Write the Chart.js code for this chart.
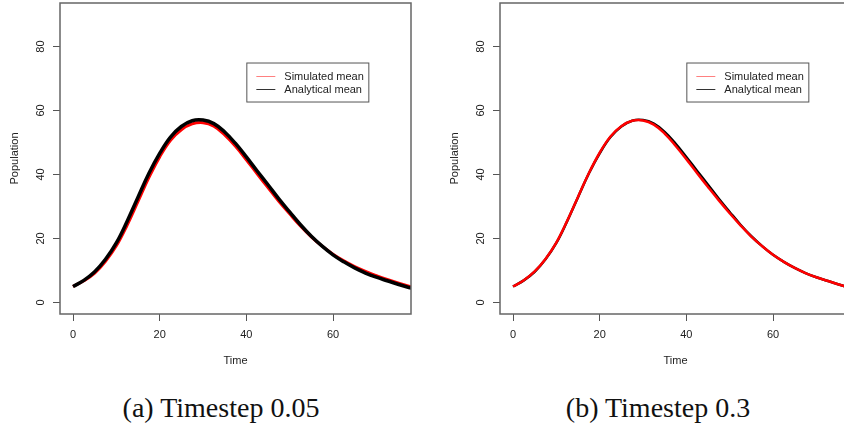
<!DOCTYPE html>
<html>
<head>
<meta charset="utf-8">
<script src="https://cdn.jsdelivr.net/npm/chart.js@4.4.1/dist/chart.umd.min.js"></script>
<style>
  html, body { margin: 0; padding: 0; background: #fff; overflow: hidden; }
  body { width: 844px; height: 432px; position: relative; }
  canvas { position: absolute; top: 0; }
  #chartA { left: 0; }
  #chartB { left: 422px; }
  .caption {
    position: absolute; top: 392px; width: 300px; margin-left: -150px;
    text-align: center; font-family: "Liberation Serif", serif; font-size: 28px; color: #111;
  }
</style>
</head>
<body>
<canvas id="chartA" width="422" height="380"></canvas>
<canvas id="chartB" width="440" height="380"></canvas>
<div class="caption" style="left:221px">(a) Timestep 0.05</div>
<div class="caption" style="left:658px">(b) Timestep 0.3</div>
<script>
// time points (every 2.5 time units)
var timePoints = [0, 2.5, 5, 7.5, 10, 12.5, 15, 17.5, 20, 22.5, 25, 27.5, 30, 32.5, 35, 37.5, 40,
  42.5, 45, 47.5, 50, 52.5, 55, 57.5, 60, 62.5, 65, 67.5, 70, 72.5, 75, 77.5, 80];

// analytical mean (same for both panels)
var analyticalMean = [5.0, 6.9, 9.6, 13.5, 18.6, 25.4, 32.9, 40.3, 46.6, 51.7, 55.0, 56.8, 57.0, 55.9, 53.3, 49.7, 45.5,
  41.1, 36.8, 32.4, 28.3, 24.3, 20.7, 17.6, 14.9, 12.7, 10.8, 9.2, 7.9, 6.8, 5.7, 4.7, 3.9];

// simulated mean, timestep 0.05
var simMean005 = [5.0, 6.8, 9.2, 12.9, 17.7, 24.2, 31.6, 39.0, 45.5, 50.7, 54.0, 55.8, 56.2, 55.1, 52.4, 48.8, 44.6,
  40.2, 35.9, 31.6, 27.7, 23.9, 20.5, 17.6, 15.1, 13.0, 11.2, 9.7, 8.4, 7.2, 6.1, 5.1, 4.3];

// simulated mean, timestep 0.3
var simMean03 = [5.0, 6.95, 9.7, 13.6, 18.7, 25.5, 33.0, 40.4, 46.8, 51.9, 55.1, 56.8, 56.9, 55.6, 52.8, 49.0, 44.8,
  40.4, 36.1, 31.9, 27.9, 24.1, 20.6, 17.6, 14.9, 12.7, 10.8, 9.2, 7.9, 6.8, 5.7, 4.7, 3.9];

var seriesLabels = ['Simulated mean', 'Analytical mean'];
var xTicks = [0, 20, 40, 60];
var yTicks = [0, 20, 40, 60, 80];

var txtFont = { family: '"Liberation Sans", Arial, sans-serif', size: 11 };

function pts(ys) {
  return timePoints.map(function(t, i) { return { x: t, y: ys[i] }; });
}

// R-style box around the plot region
var boxPlugin = {
  id: 'rbox',
  afterDraw: function(chart) {
    var ctx = chart.ctx, a = chart.chartArea;
    ctx.save();
    ctx.strokeStyle = '#666';
    ctx.lineWidth = 1.5;
    ctx.strokeRect(a.left, a.top, a.right - a.left, a.bottom - a.top);
    ctx.restore();
  }
};

// legend box anchored at a data position, like R's legend(x, y, ...)
var rLegendPlugin = {
  id: 'rlegend',
  afterDraw: function(chart, args, opts) {
    var ctx = chart.ctx;
    var x0 = chart.scales.x.getPixelForValue(opts.at[0]);
    var y0 = chart.scales.y.getPixelForValue(opts.at[1]);
    ctx.save();
    ctx.fillStyle = '#fff';
    ctx.fillRect(x0, y0, 122, 39);
    ctx.strokeStyle = '#555';
    ctx.lineWidth = 1;
    ctx.strokeRect(x0 + 0.5, y0 + 0.5, 122, 39);
    ctx.font = '11px "Liberation Sans", Arial, sans-serif';
    ctx.textBaseline = 'middle';
    chart.data.datasets.forEach(function(ds, i) {
      var yy = y0 + 14 + i * 13;
      ctx.strokeStyle = ds.legendColor;
      ctx.beginPath();
      ctx.moveTo(x0 + 10, yy);
      ctx.lineTo(x0 + 29, yy);
      ctx.stroke();
      ctx.fillStyle = '#222';
      ctx.fillText(ds.label, x0 + 38, yy);
    });
    ctx.restore();
  }
};

function makeChart(id, simData, redWidth, blackWidth, redOnTop, padLeft) {
  return new Chart(document.getElementById(id), {
    type: 'line',
    data: {
      datasets: [{
        label: seriesLabels[0],
        data: pts(simData),
        borderColor: '#ff0000',
        legendColor: '#ff8080',
        borderWidth: redWidth,
        pointRadius: 0,
        tension: 0.4,
        order: redOnTop ? 1 : 2
      }, {
        label: seriesLabels[1],
        data: pts(analyticalMean),
        borderColor: '#000000',
        legendColor: '#333',
        borderWidth: blackWidth,
        pointRadius: 0,
        tension: 0.4,
        order: redOnTop ? 2 : 1
      }]
    },
    options: {
      responsive: false,
      animation: false,
      devicePixelRatio: 1,
      layout: { padding: { left: padLeft, right: 11, top: 3, bottom: 0 } },
      plugins: {
        legend: { display: false },
        tooltip: { enabled: false },
        rlegend: { at: [40, 75] }
      },
      scales: {
        x: {
          type: 'linear',
          min: -3, max: 78,
          afterBuildTicks: function(s) { s.ticks = xTicks.map(function(v) { return { value: v }; }); },
          afterFit: function(s) { s.height = 66; s.paddingLeft = 0; s.paddingRight = 0; },
          grid: { drawOnChartArea: false, drawTicks: true, tickLength: 7, color: '#555' },
          border: { display: false },
          ticks: { font: txtFont, color: '#222', padding: 7, maxRotation: 0, minRotation: 0,
            callback: function(v) { return String(v); } },
          title: { display: true, text: 'Time', font: txtFont, color: '#222', padding: { top: 0, bottom: 12 } }
        },
        y: {
          type: 'linear',
          min: -3.6, max: 93.6,
          afterBuildTicks: function(s) { s.ticks = yTicks.map(function(v) { return { value: v }; }); },
          afterFit: function(s) { s.width = 60; s.paddingTop = 0; s.paddingBottom = 0; },
          grid: { drawOnChartArea: false, drawTicks: true, tickLength: 7, color: '#555' },
          border: { display: false },
          ticks: { font: txtFont, color: '#222', padding: 6, minRotation: 90, maxRotation: 90, crossAlign: 'center',
            callback: function(v) { return String(v); } },
          title: { display: true, text: 'Population', font: txtFont, color: '#222', padding: { top: 8, bottom: 0 } }
        }
      }
    },
    plugins: [boxPlugin, rLegendPlugin]
  });
}

makeChart('chartA', simMean005, 3, 3.5, false, 0);
makeChart('chartB', simMean03, 2.5, 2.5, true, 18);
</script>
</body>
</html>
